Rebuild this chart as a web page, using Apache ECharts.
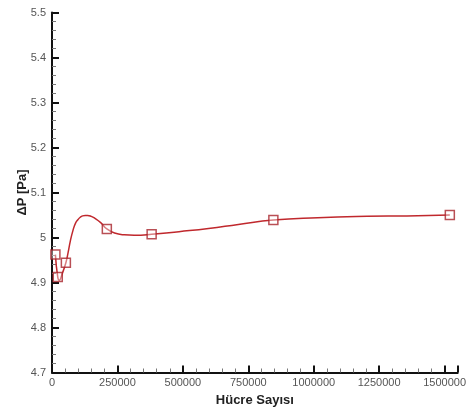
<!DOCTYPE html>
<html>
<head>
<meta charset="utf-8">
<script src="https://cdn.jsdelivr.net/npm/echarts@6/dist/echarts.min.js"></script>
<style>
  html, body { margin: 0; padding: 0; background: #fff; }
  #chart { width: 469px; height: 412px; }
</style>
</head>
<body>
<div id="chart"></div>
<script>
// Mesh study: pressure drop vs. number of cells
const cellCounts = [13000, 22000, 53000, 209500, 380700, 845800, 1520000];
const deltaP = [4.962, 4.912, 4.944, 5.019, 5.007, 5.039, 5.050];

// Fitted spline curve through the mesh results
const curveX = [13000, 22000, 28000, 38000, 53000, 62000, 70000, 80700, 90000, 99600,
  108000, 117000, 127000, 136000, 150000, 163000, 186000, 209500, 239000, 276000,
  314000, 380700, 485000, 598000, 712000, 845800, 1015000, 1204000, 1356000, 1520000];
const curveY = [4.962, 4.912, 4.905, 4.918, 4.944, 4.968, 4.992, 5.017, 5.032, 5.040,
  5.045, 5.048, 5.049, 5.049, 5.047, 5.043, 5.033, 5.019, 5.010, 5.006,
  5.005, 5.007, 5.013, 5.020, 5.029, 5.039, 5.044, 5.047, 5.048, 5.050];

const xTicks = { min: 0, max: 1550000, interval: 250000 };
const yTicks = { min: 4.7, max: 5.5, interval: 0.1 };

const lineRed = '#c0282d';
const markRed = '#a8232a';
const font = 'Liberation Sans, Arial, sans-serif';

const chart = echarts.init(document.getElementById('chart'));
chart.setOption({
  animation: false,
  backgroundColor: '#fff',
  grid: { left: 52, right: 8, top: 12.5, bottom: 39.5, containLabel: false },
  xAxis: {
    type: 'value',
    min: xTicks.min, max: xTicks.max, interval: xTicks.interval,
    name: 'Hücre Sayısı',
    nameLocation: 'middle',
    nameGap: 21,
    nameTextStyle: { fontFamily: font, fontWeight: 'bold', fontSize: 13, color: '#222' },
    axisLine: { onZero: false, lineStyle: { color: '#111', width: 2 } },
    axisTick: { inside: true, length: 7, lineStyle: { color: '#111', width: 2 } },
    minorTick: { show: true, splitNumber: 5, length: 4, lineStyle: { color: '#777', width: 1 } },
    splitLine: { show: false },
    axisLabel: {
      fontFamily: font, fontSize: 11, color: '#555', margin: 5,
      formatter: v => String(v)
    }
  },
  yAxis: {
    type: 'value',
    min: yTicks.min, max: yTicks.max, interval: yTicks.interval,
    name: 'ΔP [Pa]',
    nameLocation: 'middle',
    nameGap: 23,
    nameMoveOverlap: false,
    nameRotate: 90,
    nameTextStyle: { fontFamily: font, fontWeight: 'bold', fontSize: 13, color: '#222' },
    axisLine: { onZero: false, lineStyle: { color: '#111', width: 2 } },
    axisTick: { inside: true, length: 7, lineStyle: { color: '#111', width: 2 } },
    minorTick: { show: true, splitNumber: 5, length: 4, lineStyle: { color: '#777', width: 1 } },
    splitLine: { show: false },
    axisLabel: { fontFamily: font, fontSize: 11, color: '#555', margin: 6 }
  },
  series: [
    {
      type: 'line',
      data: curveX.map((x, i) => [x, curveY[i]]),
      smooth: 0.5,
      showSymbol: false,
      symbol: 'none',
      lineStyle: { color: lineRed, width: 1.5 },
      z: 2
    },
    {
      type: 'scatter',
      data: cellCounts.map((x, i) => [x, deltaP[i]]),
      symbol: 'rect',
      symbolSize: 9,
      itemStyle: { color: 'rgba(255,255,255,0.5)', borderColor: markRed, borderWidth: 1.5 },
      z: 3
    }
  ]
});
</script>
</body>
</html>
